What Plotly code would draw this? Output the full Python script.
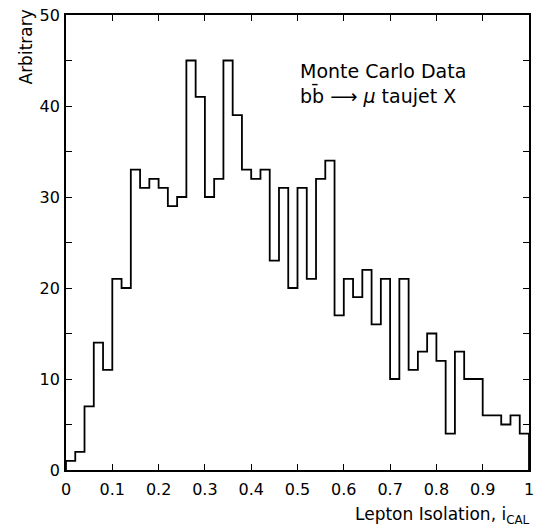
import numpy as np
import plotly.graph_objects as go

# Histogram of lepton isolation, 50 bins of width 0.02 over [0, 1]
bin_lo = 0.0
bin_hi = 1.0
counts = [1, 2, 7, 14, 11, 21, 20, 33, 31, 32,
          31, 29, 30, 45, 41, 30, 32, 45, 39, 33,
          32, 33, 23, 31, 20, 31, 21, 32, 34, 17,
          21, 19, 22, 16, 21, 10, 21, 11, 13, 15,
          12, 4, 13, 10, 10, 6, 6, 5, 6, 4]
x_ticks = [0, 0.1, 0.2, 0.3, 0.4, 0.5, 0.6, 0.7, 0.8, 0.9, 1]
x_tick_text = ["0", "0.1", "0.2", "0.3", "0.4", "0.5", "0.6", "0.7", "0.8", "0.9", "1"]
y_ticks = [0, 10, 20, 30, 40, 50]

edges = np.linspace(bin_lo, bin_hi, len(counts) + 1)
step_y = [0] + counts + [counts[-1], 0]
step_x = [edges[0]] + list(edges) + [edges[-1]]

FONT = "DejaVu Sans"

fig = go.Figure()
fig.add_trace(go.Scatter(
    x=step_x, y=step_y, mode="lines",
    line=dict(color="black", width=1.8, shape="hv"),
    hoverinfo="skip", showlegend=False,
))

axis_common = dict(
    showline=True, linecolor="black", linewidth=1.8, mirror="allticks",
    ticks="inside", ticklen=6, tickwidth=1.3, tickcolor="black",
    showgrid=False, zeroline=False, ticklabeloverflow="allow",
    tickfont=dict(family=FONT, size=16, color="black"),
)

fig.update_xaxes(range=[bin_lo, bin_hi], tickvals=x_ticks, ticktext=x_tick_text,
                 ticklabelstandoff=4, **axis_common)
fig.update_yaxes(range=[0, 50], tickvals=y_ticks,
                 minor=dict(dtick=5, ticks="inside", ticklen=6, tickcolor="black"),
                 ticklabelstandoff=1, **axis_common)

fig.add_annotation(text="Arbitrary", xref="paper", yref="paper", x=0, y=1,
                   xanchor="center", yanchor="top", textangle=-90,
                   xshift=-41, yshift=7, showarrow=False,
                   font=dict(family=FONT, size=17, color="black"))
fig.add_annotation(text="Lepton Isolation, i<sub>CAL</sub>", xref="paper", yref="paper",
                   x=1, y=0, xanchor="right", yanchor="middle", yshift=-45, xshift=3,
                   showarrow=False, font=dict(family=FONT, size=17, color="black"))
fig.add_annotation(text="Monte Carlo Data<br>bb\u0304 \u27f6 <i>\u03bc</i> taujet X",
                   xref="paper", yref="paper", x=0.5, y=0.905,
                   xanchor="left", yanchor="top", align="left",
                   showarrow=False, font=dict(family=FONT, size=19, color="black"))

fig.update_layout(
    width=537, height=531,
    margin=dict(l=66, r=3, t=15, b=61),
    plot_bgcolor="white", paper_bgcolor="white",
)

fig.write_html("out.html")
